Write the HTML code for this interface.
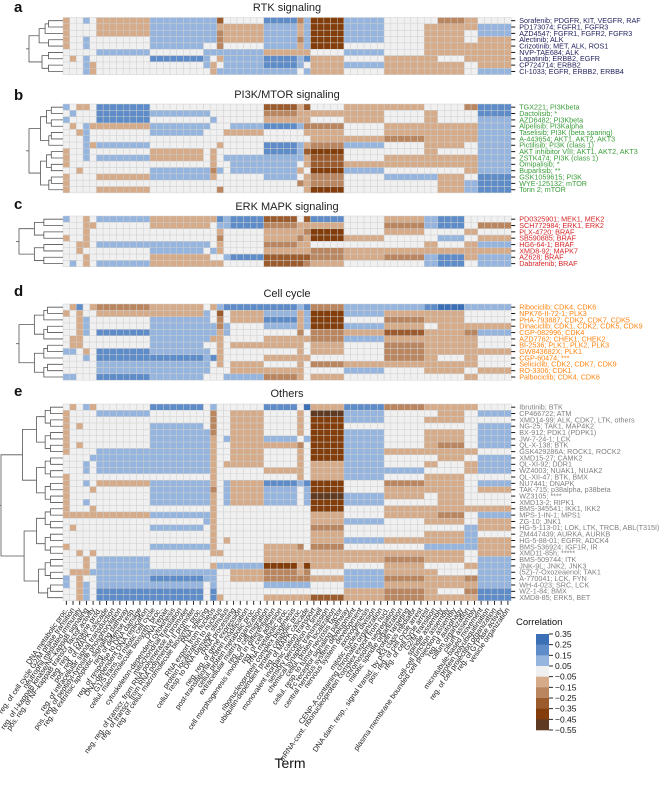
<!DOCTYPE html>
<html><head><meta charset="utf-8"><style>
html,body{margin:0;padding:0;background:#fff;}
svg{display:block;font-family:"Liberation Sans","DejaVu Sans",sans-serif;}
</style></head><body>
<svg id="chart" width="668" height="789" viewBox="0 0 668 789" xmlns="http://www.w3.org/2000/svg">
<g id="g-main"></g>
</svg>
<script>
// ---- data ----
const blockCols = [1,1,1,1,1,8,8,1,1,1,1,5,5,1,1,5,6,6,2,4,2,5];
const panelTitles = ["RTK signaling","PI3K/MTOR signaling","ERK MAPK signaling","Cell cycle","Others"];
const panelLetters = ["a","b","c","d","e"];
const rtkDrugs = ["Sorafenib; PDGFR, KIT, VEGFR, RAF","PD173074; FGFR1, FGFR3","AZD4547; FGFR1, FGFR2, FGFR3","Alectinib; ALK","Crizotinib; MET, ALK, ROS1","NVP-TAE684; ALK","Lapatinib; ERBB2, EGFR","CP724714; ERBB2","CI-1033; EGFR, ERBB2, ERBB4"];
const rtkLevels = [
[-1,0,0,1,0,-1,1,1,1,-3,0,0,2,-2,1,-4,1,0,0,-2,-1,0],
[-1,0,0,0,0,-1,1,1,1,-1,-1,-1,1,-1,1,-4,1,0,-1,-1,-1,1],
[-1,0,0,0,0,-1,1,1,1,-2,-1,-1,1,-1,1,-4,1,0,-1,-1,0,1],
[-1,0,0,1,0,0,1,1,1,-2,-1,-1,1,-2,1,-4,1,0,-1,-1,0,-1],
[-1,0,0,1,0,0,1,0,0,-2,0,0,1,-1,1,-4,0,0,-1,-1,-1,-1],
[0,0,0,0,0,1,0,1,1,1,1,1,-1,-1,-1,0,1,0,-1,-1,-1,-1],
[0,-1,0,1,0,0,2,1,0,-1,1,1,2,1,2,-1,0,-1,-1,0,-1,-1],
[0,0,0,1,-1,0,0,1,-1,0,1,1,2,1,0,-1,1,-1,-1,-1,0,-1],
[0,0,0,1,-1,0,0,0,-1,1,1,1,1,0,1,-1,0,-1,-1,-1,0,1]];
const pi3kDrugs = ["TGX221; PI3Kbeta","Dactolisib; *","AZD6482; PI3Kbeta","Alpelisib; PI3Kalpha","Taselisib; PI3K (beta sparing)","A-443654; AKT1, AKT2, AKT3","Pictilisib; PI3K (class 1)","AKT inhibitor VIII; AKT1, AKT2, AKT3","ZSTK474; PI3K (class 1)","Omipalisib; *","Buparlisib; **","GSK1059615; PI3K","WYE-125132; mTOR","Torin 2; mTOR"];
const pi3kLevels = [
[1,0,-1,-1,0,2,0,0,0,0,0,0,-3,-1,-3,0,-1,-1,0,0,-2,2],
[0,1,0,0,0,2,1,1,0,0,0,0,-2,-1,-1,-1,-1,0,-1,0,0,2],
[1,0,0,0,0,2,0,0,1,0,0,0,-1,-1,-1,0,-1,0,-1,0,0,1],
[0,-1,0,1,-1,-1,1,1,0,0,0,1,2,1,-2,-2,0,-1,-1,-1,-1,1],
[0,0,-1,1,0,0,1,0,0,0,-1,-1,0,0,-1,-1,0,-1,-1,-1,-1,1],
[0,0,0,1,0,0,0,0,0,0,0,0,0,0,0,-1,-1,-2,-1,-1,-1,1],
[0,0,0,1,-1,1,0,0,0,-1,0,0,2,1,-1,-2,1,0,-1,-1,0,1],
[-1,0,0,1,0,0,-1,0,-1,0,0,0,2,1,-3,-4,0,0,-1,0,0,1],
[-1,0,0,1,0,1,-1,0,-1,0,1,1,1,1,-1,-3,0,-1,-1,-1,-1,1],
[-1,0,0,0,0,0,0,0,-1,0,0,1,1,0,-1,-3,-1,-1,-1,-1,-1,1],
[0,0,-1,0,0,0,1,1,-2,1,0,1,1,-1,0,-4,1,0,0,0,-1,1],
[-1,0,0,0,0,-1,1,1,-1,0,0,0,1,0,-1,-2,0,1,1,-1,0,2],
[-1,0,0,0,0,0,0,0,0,0,0,0,0,-2,-1,-2,0,0,0,-1,1,2],
[-1,0,0,0,0,-1,0,0,0,-2,0,0,0,0,-1,-4,0,0,0,-1,1,2]];
const erkDrugs = ["PD0325901; MEK1, MEK2","SCH772984; ERK1, ERK2","PLX-4720; BRAF","SB590885; BRAF","HG6-64-1; BRAF","XMD8-92; MAPK7","AZ628; BRAF","Dabrafenib; BRAF"];
const erkLevels = [
[1,0,0,-1,0,1,-1,-1,-1,2,1,2,-3,0,-3,2,0,-1,1,2,0,0],
[0,0,0,-1,-1,0,-1,-1,0,1,1,2,-2,-1,-1,-1,0,-2,1,2,0,-2],
[0,0,0,-1,0,0,0,0,0,-1,0,0,-1,-1,-2,-4,0,-1,0,0,-1,0],
[-1,0,0,-1,0,0,0,0,0,-2,0,0,-1,-2,-1,-4,-1,0,0,1,0,-1],
[0,0,-1,-1,0,1,1,1,0,-1,0,0,-2,-1,-1,0,0,0,-1,0,-1,1],
[0,0,-1,0,0,0,1,0,1,-1,0,0,-1,-1,-1,-2,-1,-1,-1,-1,-1,-1],
[0,0,0,-1,0,0,-1,-1,0,0,1,2,-3,-3,-3,-2,-1,-2,1,2,-1,1],
[0,1,0,-1,0,1,-1,-1,-1,-1,0,0,-3,-3,-2,-1,0,0,1,2,0,1]];
const cycleDrugs = ["Ribociclib; CDK4, CDK6","NPK76-II-72-1; PLK3","PHA-793887; CDK2, CDK7, CDK5","Dinaciclib; CDK1, CDK2, CDK5, CDK9","CGP-082996; CDK4","AZD7762; CHEK1, CHEK2","BI-2536; PLK1, PLK2, PLK3","GW843682X; PLK1","CGP-60474; ***","Seliciclib; CDK2, CDK7, CDK9","RO-3306; CDK1","Palbociclib; CDK4, CDK6"];
const cycleLevels = [
[0,-1,2,0,-1,-2,-1,0,-1,1,2,2,2,1,2,-2,1,1,2,3,1,1],
[-1,0,-1,0,0,-1,-1,1,0,-3,0,-1,1,-1,1,-4,1,-1,-1,-1,0,0],
[0,0,-1,1,0,0,1,1,0,-2,0,-1,2,-1,1,-4,0,-2,-1,-1,0,0],
[0,0,-1,1,0,0,1,1,1,-2,1,0,1,-1,1,-4,1,-1,0,-1,-1,-1],
[0,0,-1,1,0,2,1,1,1,-1,1,0,0,-2,0,-2,-1,-3,-1,-1,-2,1],
[0,-1,-1,0,0,0,1,1,-1,-1,0,0,-1,-1,-1,-2,1,-1,-1,-1,-1,0],
[0,-1,-1,0,0,0,1,0,0,-1,0,-1,-1,-1,0,-1,0,-2,-1,-1,-1,0],
[1,1,0,-1,0,2,1,1,0,-1,0,0,0,-1,0,-1,0,-2,-1,-1,-1,-1],
[0,0,0,1,0,2,2,1,2,-1,0,0,-1,-1,-1,0,0,-2,-1,0,-1,0],
[0,0,0,0,0,1,1,1,0,-1,0,-1,0,-1,0,-2,-1,-1,-1,-1,-1,0],
[0,0,0,0,0,1,1,1,0,0,0,-1,-1,-1,0,0,1,0,-1,-1,0,-1],
[1,1,0,0,0,2,1,0,0,0,1,1,-2,-1,0,-1,0,0,0,0,-1,0]];
const otherDrugs = ["Ibrutinib; BTK","CP466722; ATM","XMD14-99; ALK, CDK7, LTK, others","NG-25; TAK1, MAP4K2","BX-912; PDK1 (PDPK1)","JW-7-24-1; LCK","QL-X-138; BTK","GSK429286A; ROCK1, ROCK2","XMD15-27; CAMK2","QL-XI-92; DDR1","WZ4003; NUAK1, NUAK2","QL-XII-47; BTK, BMX","NU7441; DNAPK","TAK-715; p38alpha, p38beta","WZ3105; ****","XMD13-2; RIPK1","BMS-345541; IKK1, IKK2","MPS-1-IN-1; MPS1","ZG-10; JNK1","HG-5-113-01; LOK, LTK, TRCB, ABL(T315I)","ZM447439; AURKA, AURKB","HG-5-88-01; EGFR, ADCK4","BMS-536924; IGF1R, IR","XMD11-85h; *****","BMS-509744; ITK","JNK-9L; JNK2, JNK3","(5Z)-7-Oxozeaenol; TAK1","A-770041; LCK, FYN","WH-4-023; SRC, LCK","WZ-1-84; BMX","XMD8-85; ERK5, BET"];
const otherLevels = [
[0,-1,0,1,-1,0,2,0,1,0,0,0,2,0,3,-1,2,-2,-1,-1,-1,0],
[-1,0,0,0,0,1,0,0,-2,0,0,-1,0,-1,0,-5,1,0,0,-1,0,1],
[-1,0,0,0,0,0,0,0,-2,0,0,-1,0,-1,0,-4,1,0,-1,-1,0,0],
[-1,0,-1,0,0,0,1,0,-2,0,0,-1,0,-1,0,-4,0,0,0,0,0,1],
[-1,0,0,0,0,0,1,1,-2,0,0,-1,0,-1,0,-4,1,0,-1,-1,0,1],
[-1,0,0,0,0,0,1,1,-1,0,1,-1,1,0,1,-4,1,0,-1,-1,0,1],
[-1,0,-1,0,0,0,1,1,-1,0,0,-1,-1,-2,0,-4,1,0,-1,-2,0,1],
[-1,0,0,0,0,1,1,1,-1,0,0,-1,0,-1,0,-4,1,-1,-1,-1,-1,0],
[0,0,0,0,1,1,1,1,-1,0,0,-1,0,-1,0,-4,1,0,0,-1,0,1],
[0,0,0,1,0,1,1,1,-1,0,-1,-1,0,-1,0,-1,1,0,-1,0,-1,1],
[0,0,0,1,0,1,1,1,-1,0,0,0,-1,-1,0,-1,1,1,0,0,-1,1],
[-1,0,0,0,0,0,0,0,-1,0,0,0,0,-1,0,-1,1,0,-1,-1,0,0],
[-1,0,0,1,0,-1,1,1,-1,0,1,-1,2,1,2,-4,0,-2,-1,-1,0,1],
[-1,0,0,0,-1,0,1,1,-2,0,1,-1,1,0,1,-4,0,-1,-1,-1,0,-1],
[-1,0,0,0,0,0,1,1,-1,0,1,-1,1,0,1,-5,1,-1,0,-1,0,0],
[-1,0,0,1,0,0,1,1,-1,0,1,-1,1,0,1,-4,1,0,0,-1,0,0],
[-1,0,0,0,-1,0,0,0,-1,0,0,0,0,0,0,-4,0,-1,-1,-1,-1,-1],
[-1,-1,-1,-1,-1,-1,1,1,-1,0,0,0,0,0,0,-1,0,-1,-1,-2,0,1],
[0,0,0,0,0,0,0,1,-1,0,0,0,0,0,0,-1,1,0,-1,-1,0,-1],
[0,-1,0,0,0,0,1,0,-1,0,0,0,0,0,0,-2,0,0,0,0,1,-1],
[0,0,0,0,0,0,0,0,-1,0,0,0,0,0,0,-1,0,0,-1,-1,1,0],
[0,0,0,0,0,0,0,0,-1,0,-1,0,0,0,0,-1,1,-1,-1,-1,1,-1],
[-1,0,0,0,0,0,1,1,-1,0,0,0,-1,-2,0,-2,0,0,1,1,1,-1],
[0,0,-1,0,-1,0,0,0,-1,-1,0,0,-1,-1,-1,-1,-1,-1,-1,-1,0,-1],
[0,0,0,-1,0,1,0,0,0,0,0,0,-1,-1,-1,-1,-1,-2,-1,-1,0,1],
[0,0,0,-1,0,1,0,0,-1,1,1,1,-4,-1,-4,-1,0,-1,0,0,-1,1],
[0,-1,-1,-1,1,1,1,1,1,0,0,-1,-2,-1,-2,0,1,-1,-1,0,0,1],
[1,0,-1,0,0,1,2,1,1,0,0,-1,-2,-2,-2,-1,1,-2,-1,-1,-2,1],
[1,0,-1,1,0,1,1,0,1,0,0,0,1,1,1,0,1,-1,-1,-1,-1,1],
[0,0,-1,1,0,2,2,0,2,0,0,0,0,0,0,0,-1,-2,-1,0,-2,2],
[0,0,-1,1,0,2,2,0,2,-1,0,0,-1,-1,-1,-3,-1,-2,-1,-1,-1,2]];
const termLabels = ["DNA metabolic proc.","reg. of cell cycle G2/M phase transition","neutrophil mediated immunity","reg. of I-kappaB kinase/NF-kappaB signaling","pos. reg. of NF-kappaB transcr. factor activity","neg. reg. of cytokine prod.","pos. reg. of MAPK cascade","reg. of intracellular signal transduction","pos. reg. of peptidyl-tyrosine phosphorylation","reg. of extrinsic apoptotic signaling pathway","reg. of defense resp.","reg. of response to DNA damage","DNA-dependent DNA replication","G1/S trans. of mitotic cell cycle","cellul. macromolecule biosynth. proc.","DNA repair","cytoskeleton-dependent cytokinesis","mitochondrial translation","neg. reg. of transcr. from RNA polymerase II promoter","reg. of transcr. from RNA polymerase II promoter","reg. of cellul. macromolecule biosynth. proc.","RNA splicing","RNA export from nucleus","protein localization to nucleus","cellul. resp. to DNA damage stimulus","rRNA processing","neg. reg. of gene expression","post-translational protein modification","cellul. protein metabolic proc.","extracellular matrix organization","reg. of cell migration","cell morphogenesis involved in differentiation","reg. of cell adhesion","RNA metabolic proc.","ribonucleoprotein complex biogenesis","ubiquitin-dependent protein catabolic proc.","reg. of MAPK cascade","monovalent inorganic cation transport","sensory perception of smell","chemical synaptic transmission","cellul. protein localization","cellul. resp. to tumor necrosis factor","Fc receptor signaling pathway","central nervous system development","nervous system development","axonogenesis","mitotic nuclear division","CENP-A containing chromatin organization","mRNA-cont. ribonucleoprotein complex export from nucl.","chromosome segregation","mitotic spindle organization","protein targeting","DNA dam. resp., signal transd. by p53 class mediator","pos. reg. of cell cycle arrest","reg. of cell cycle arrest","G2/M transition","spindle assembly","cell-cell junction assembly","plasma membrane bounded cell projection assembly","reg. of autophagy","cilium organization","cilium assembly","microtubule-based movement","protein polyubiquitination","reg. of cell projection organization","reg. of GTPase activity","vesicle organization"];
const cbTicks = [0.35,0.25,0.15,0.05,-0.05,-0.15,-0.25,-0.35,-0.45,-0.55];
const cbColors = ["#3b6fb6","#5e8cc8","#95b5df","#f0f0f0","#d5ab89","#ba8660","#9c5b2d","#823d0b","#5e3a22"];

// ---- layout ----
const NS = "http://www.w3.org/2000/svg";
const root = document.getElementById("g-main");
const X0 = 63, CW = 6.69, RH = 6.35, NCOL = 67;
const panels = [
 {top:17.5, drugs:rtkDrugs, levels:rtkLevels, color:"#1f1f5c", titleY:11, letterY:12, dw:30, key:"rtk"},
 {top:104, drugs:pi3kDrugs, levels:pi3kLevels, color:"#3a9d3a", titleY:98, letterY:100, dw:30, key:"pi3k"},
 {top:216, drugs:erkDrugs, levels:erkLevels, color:"#d62728", titleY:210, letterY:209, dw:40, key:"erk"},
 {top:304, drugs:cycleDrugs, levels:cycleLevels, color:"#ff8410", titleY:297, letterY:296, dw:40, key:"cycle"},
 {top:404, drugs:otherDrugs, levels:otherLevels, color:"#808080", titleY:397, letterY:396, dw:58, key:"others"}];
function el(tag, attrs, parent){const e=document.createElementNS(NS,tag);for(const k in attrs)e.setAttribute(k,attrs[k]);(parent||root).appendChild(e);return e;}
function xOf(col){return X0 + col*CW;}
function colorOf(v){
  for(let i=0;i<cbColors.length;i++){ if(v<=cbTicks[i]+1e-9 && v>=cbTicks[i+1]-1e-9) return cbColors[i]; }
  return v>0?cbColors[0]:cbColors[cbColors.length-1];
}
function cbY(v){return 634 + (cbTicks[0]-v)/(cbTicks[0]-cbTicks[cbTicks.length-1])*96;}

panels.forEach((p,pi)=>{
  const g = el("g",{});
  
  
  const lt = el("text",{x:14,y:p.letterY,"font-size":"15","font-weight":"bold",fill:"#111"},g);
  lt.textContent = panelLetters[pi];
  
  
  const tt = el("text",{x:287,y:p.titleY,"font-size":"11","text-anchor":"middle",fill:"#222"},g);
  tt.textContent = panelTitles[pi];
  
  
  p.levels.forEach((row,ri)=>{
    let col=0;
    row.forEach((lv,bi)=>{
      const v = lv/10;
      for(let k=0;k<blockCols[bi];k++){
        const r = el("rect",{x:xOf(col).toFixed(2),y:(p.top+ri*RH).toFixed(2),width:CW.toFixed(2),height:RH.toFixed(2),fill:colorOf(v),stroke:"#cfcfcf","stroke-width":"0.45"},g);
        
        
        col++;
      }
    });
    const yc = p.top+ri*RH+RH/2;
    const tk = el("line",{x1:xOf(NCOL),x2:xOf(NCOL)+4,y1:yc,y2:yc,stroke:"#111","stroke-width":"1"},g);
    
    
    const lab = el("text",{x:xOf(NCOL)+8,y:yc+2.4,"font-size":"7.2",fill:p.color},g);
    lab.textContent = p.drugs[ri];
    
    
  });
  const n = p.levels.length;
  function build(lo,hi){
    if(hi-lo===1) return {x:X0, y:p.top+lo*RH+RH/2};
    const mid = lo + Math.ceil((hi-lo)/2);
    const a = build(lo,mid), b = build(mid,hi);
    const x = X0 - 4 - p.dw*Math.pow((hi-lo)/n,0.7);
    const path = el("path",{d:`M${a.x},${a.y}H${x}V${b.y}H${b.x}`,fill:"none",stroke:"#555","stroke-width":"0.8"},g);
    
    
    return {x:x, y:(a.y+b.y)/2};
  }
  const rootN = build(0,n);
  const stem = el("line",{x1:rootN.x,x2:rootN.x-3,y1:rootN.y,y2:rootN.y,stroke:"#555","stroke-width":"0.8"},g);
  
  
});

const xg = el("g",{});


const axisY = 404 + otherLevels.length*RH;
termLabels.forEach((t,i)=>{
  const x = xOf(i)+CW/2;
  const tk = el("line",{x1:x,x2:x,y1:axisY,y2:axisY+4,stroke:"#111","stroke-width":"0.9"},xg);
  
  
  const tx = el("text",{x:x+2,y:axisY+9,"font-size":"7.4",fill:"#222","text-anchor":"end",transform:`rotate(-55 ${x+2} ${axisY+9})`},xg);
  tx.textContent = t;
  
  
});
const xt = el("text",{x:290,y:768,"font-size":"14","text-anchor":"middle",fill:"#111"});
xt.textContent = "Term";



const cg = el("g",{});


const ct = el("text",{x:516,y:625,"font-size":"9.5",fill:"#111"},cg);
ct.textContent = "Correlation";


cbColors.forEach((c,i)=>{
  const y1 = cbY(cbTicks[i]), y2 = cbY(cbTicks[i+1]);
  const r = el("rect",{x:536,y:y1,width:13,height:y2-y1+0.3,fill:c},cg);
  
  
});
cbTicks.forEach(v=>{
  const y = cbY(v);
  const tk = el("line",{x1:549,x2:553,y1:y,y2:y,stroke:"#111","stroke-width":"0.9"},cg);
  
  
  const tx = el("text",{x:555,y:y+3,"font-size":"8.5",fill:"#111"},cg);
  tx.textContent = (v<0?"\u2212":"")+Math.abs(v).toFixed(2);
  
  
});
</script>
</body></html>
